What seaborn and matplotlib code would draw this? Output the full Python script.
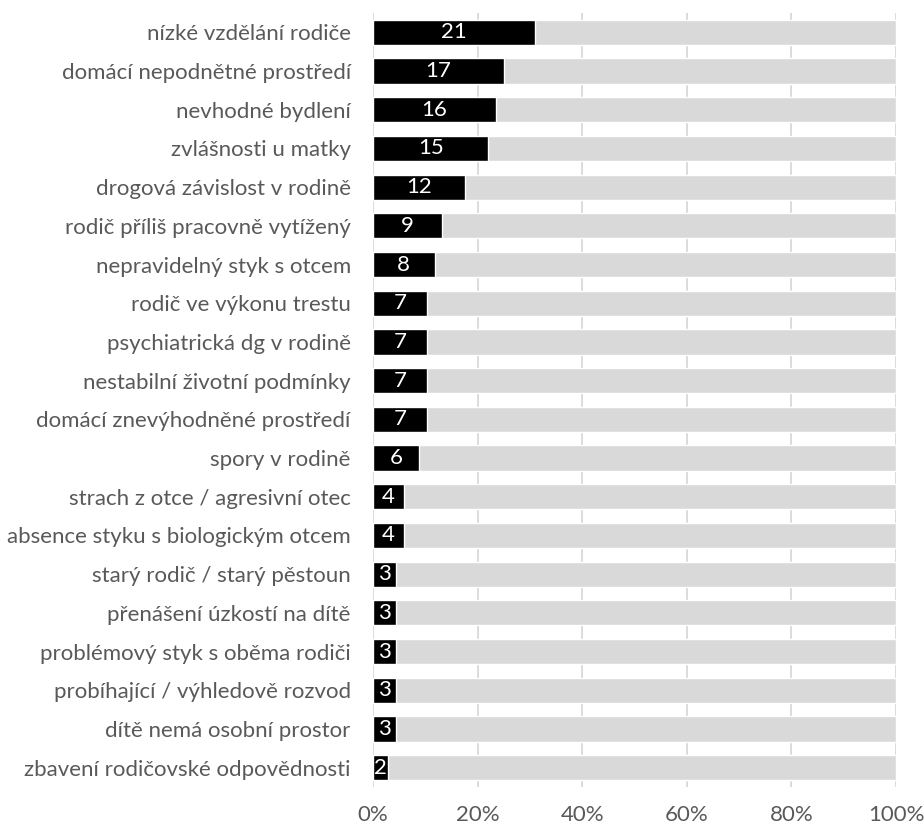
import matplotlib
matplotlib.use("Agg")
import matplotlib.pyplot as plt
import seaborn as sns
import pandas as pd
from matplotlib.ticker import PercentFormatter

categories = [
    "nízké vzdělání rodiče",
    "domácí nepodnětné prostředí",
    "nevhodné bydlení",
    "zvlášnosti u matky",
    "drogová závislost v rodině",
    "rodič příliš pracovně vytížený",
    "nepravidelný styk s otcem",
    "rodič ve výkonu trestu",
    "psychiatrická dg v rodině",
    "nestabilní životní podmínky",
    "domácí znevýhodněné prostředí",
    "spory v rodině",
    "strach z otce / agresivní otec",
    "absence styku s biologickým otcem",
    "starý rodič / starý pěstoun",
    "přenášení úzkostí na dítě",
    "problémový styk s oběma rodiči",
    "probíhající / výhledově rozvod",
    "dítě nemá osobní prostor",
    "zbavení rodičovské odpovědnosti",
]
counts = [21, 17, 16, 15, 12, 9, 8, 7, 7, 7, 7, 6, 4, 4, 3, 3, 3, 3, 3, 2]
total_cases = 68

df = pd.DataFrame({"kategorie": categories, "pocet": counts})
df["podil"] = df["pocet"] / total_cases * 100
df["celek"] = 100.0

sns.set_theme(style="white")
plt.rcParams["font.family"] = ["Lato", "DejaVu Sans"]
text_color = "#595959"
grey = "#d9d9d9"

fig = plt.figure(figsize=(9.24, 8.25), dpi=100)
ax = fig.add_axes([373 / 924, 38 / 825, (896 - 373) / 924, (812 - 38) / 825])

sns.barplot(data=df, y="kategorie", x="celek", color=grey, width=0.65,
            orient="h", ax=ax, saturation=1, zorder=2)
sns.barplot(data=df, y="kategorie", x="podil", color="black", width=0.65,
            orient="h", ax=ax, saturation=1, zorder=3)

for i, (n, p) in enumerate(zip(df["pocet"], df["podil"])):
    ax.text(p / 2, i, str(n), ha="center", va="center", color="white",
            fontsize=16, zorder=4)

ax.set_xlim(0, 100)
ax.set_ylim(len(categories) - 0.5, -0.5)
ax.set_xticks([0, 20, 40, 60, 80, 100])
ax.xaxis.set_major_formatter(PercentFormatter(decimals=0))
ax.grid(axis="x", color=grey, linewidth=1.3, zorder=0)
ax.set_axisbelow(True)
for s in ax.spines.values():
    s.set_visible(False)
ax.set_xlabel("")
ax.set_ylabel("")
ax.tick_params(axis="both", length=0, labelsize=16, colors=text_color)
ax.tick_params(axis="x", pad=13)
ax.tick_params(axis="y", pad=16)

fig.savefig("out.png", dpi=100)
